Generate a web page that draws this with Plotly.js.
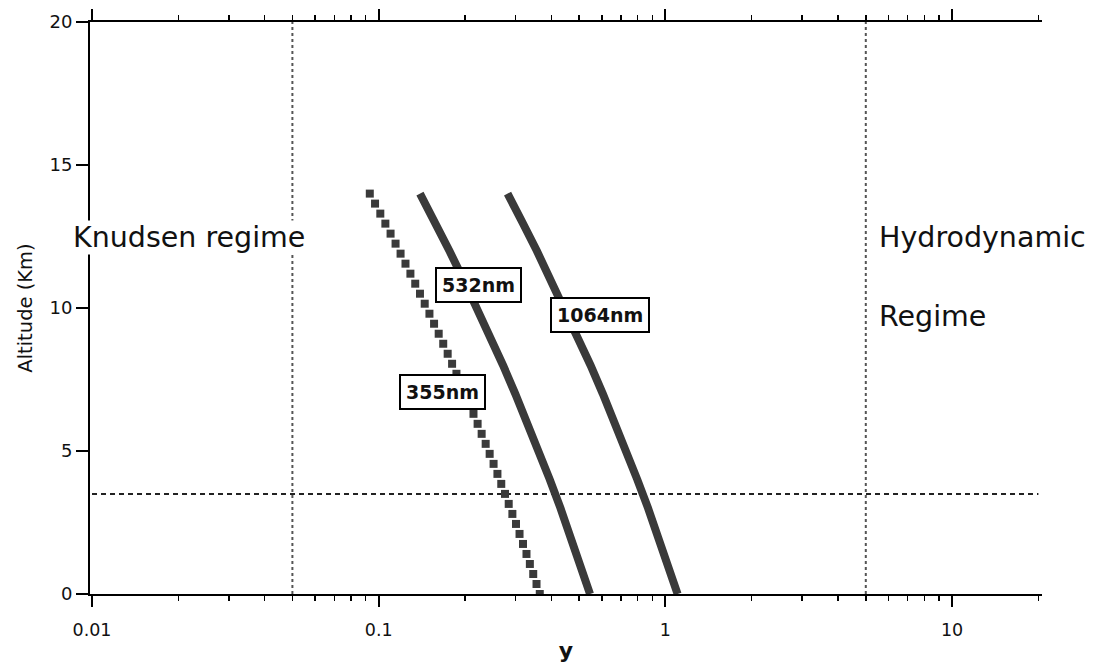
<!DOCTYPE html>
<html>
<head>
<meta charset="utf-8">
<script src="https://cdn.plot.ly/plotly-3.0.1.min.js"></script>
<style>html,body{margin:0;padding:0;background:#fff;}#chart{width:1099px;height:667px;}</style>
</head>
<body>
<div id="chart"></div>
<script>
// 355 nm: marker positions
const altitude355 = [0, 0.35, 0.7, 1.05, 1.4, 1.75, 2.1, 2.45, 2.8, 3.15, 3.5, 3.85, 4.2, 4.55, 4.9, 5.25, 5.6, 5.95, 6.3, 6.65, 7.0, 7.35, 7.7, 8.05, 8.4, 8.75, 9.1, 9.45, 9.8, 10.15, 10.5, 10.85, 11.2, 11.55, 11.9, 12.25, 12.6, 12.95, 13.3, 13.65, 14.0];
const y355 = [0.3646, 0.3552, 0.3459, 0.3367, 0.3277, 0.3187, 0.3099, 0.3012, 0.2926, 0.2841, 0.2758, 0.2676, 0.2595, 0.2516, 0.2438, 0.2361, 0.2286, 0.2213, 0.2141, 0.2070, 0.2001, 0.1933, 0.1867, 0.1803, 0.1740, 0.1679, 0.1619, 0.1560, 0.1503, 0.1447, 0.1393, 0.1341, 0.1290, 0.1240, 0.1192, 0.1145, 0.1100, 0.1055, 0.1013, 0.0971, 0.0931];

// 532 nm and 1064 nm solid curves
const altitude = [0, 1, 2, 3, 4, 5, 6, 7, 8, 9, 10, 11, 12, 13, 14];
const y532 = [0.5459, 0.5061, 0.4679, 0.4306, 0.3952, 0.3618, 0.3296, 0.2995, 0.2714, 0.2448, 0.2202, 0.1974, 0.1764, 0.1571, 0.1393];
const y1064 = [1.103, 1.022, 0.945, 0.870, 0.798, 0.731, 0.666, 0.605, 0.548, 0.494, 0.445, 0.399, 0.356, 0.317, 0.2815];

// regime boundaries and reference altitude
const regimeBounds = [0.05, 5];
const altitudeSpan = [0, 20];
const refAltitude = 3.5;
const refSpan = [0.01, 20];

// axis ticks
const xTickVals = [0.01, 0.1, 1, 10];
const xTickText = ['0.01', '0.1', '1', '10'];
const xMinorVals = [0.02,0.03,0.04,0.05,0.06,0.07,0.08,0.09,0.2,0.3,0.4,0.5,0.6,0.7,0.8,0.9,2,3,4,5,6,7,8,9,20];
const yTickVals = [0, 5, 10, 15, 20];

const curveColor = '#3a3a3a';
const FONT = 'DejaVu Sans, Verdana, sans-serif';

const traces = [
  {x: [regimeBounds[0], regimeBounds[0]], y: altitudeSpan, mode: 'lines', line: {color: '#555', width: 2, dash: 'dot'}, hoverinfo: 'skip'},
  {x: [regimeBounds[1], regimeBounds[1]], y: altitudeSpan, mode: 'lines', line: {color: '#555', width: 2, dash: 'dot'}, hoverinfo: 'skip'},
  {x: refSpan, y: [refAltitude, refAltitude], mode: 'lines', line: {color: '#222', width: 2, dash: '5px,4px'}, hoverinfo: 'skip'},
  {x: y355, y: altitude355, mode: 'markers', name: '355nm', marker: {symbol: 'square', size: 8, color: curveColor}},
  {x: y532, y: altitude, mode: 'lines', name: '532nm', line: {color: curveColor, width: 8}},
  {x: y1064, y: altitude, mode: 'lines', name: '1064nm', line: {color: curveColor, width: 8}}
];

const boxLabel = (text, x, y) => ({
  text: '<b>' + text + '</b>', xref: 'paper', yref: 'paper', x: x, y: y,
  xanchor: 'center', yanchor: 'middle', showarrow: false,
  bgcolor: '#fff', bordercolor: '#000', borderwidth: 2, borderpad: 5,
  font: {family: FONT, size: 19, color: '#111'}
});
const plainLabel = (text, x, y, bg) => ({
  text: text, xref: 'paper', yref: 'paper', x: x, y: y,
  xanchor: 'left', yanchor: 'middle', showarrow: false,
  bgcolor: bg || 'rgba(0,0,0,0)', borderpad: 0,
  font: {family: FONT, size: 28.5, color: '#111'}
});

const layout = {
  width: 1099, height: 667,
  margin: {l: 90, r: 57, t: 22, b: 73},
  paper_bgcolor: '#fff', plot_bgcolor: '#fff',
  showlegend: false,
  xaxis: {
    type: 'log', range: [-2.007, 1.3136],
    tickmode: 'array', tickvals: xTickVals, ticktext: xTickText,
    ticks: 'outside', ticklen: 11, tickwidth: 2, tickcolor: '#000',
    showline: true, linewidth: 2, linecolor: '#000', mirror: 'ticks',
    showgrid: false, zeroline: false,
    tickfont: {family: FONT, size: 17.5, color: '#111'},
    ticklabelstandoff: 8,
    minor: {tickmode: 'array', tickvals: xMinorVals, ticks: 'outside', ticklen: 5, tickwidth: 1.5, tickcolor: '#000', showgrid: false},
    title: {text: '<b>y</b>', font: {family: FONT, size: 22, color: '#111'}, standoff: 4}
  },
  yaxis: {
    range: [0, 20],
    tickmode: 'array', tickvals: yTickVals,
    ticks: 'outside', ticklen: 12, tickwidth: 1.5, tickcolor: '#000',
    showline: true, linewidth: 2, linecolor: '#000', mirror: false,
    showgrid: false, zeroline: false,
    tickfont: {family: FONT, size: 18, color: '#111'},
    title: {text: 'Altitude (Km)', font: {family: FONT, size: 19.5, color: '#111'}, standoff: 12}
  },
  annotations: [
    plainLabel('Knudsen regime', -0.0189, 0.6224, '#fff'),
    plainLabel('Hydrodynamic', 0.8277, 0.6224),
    plainLabel('Regime', 0.8277, 0.4843),
    boxLabel('532nm', 0.4086, 0.5402),
    boxLabel('1064nm', 0.5352, 0.4878),
    boxLabel('355nm', 0.3703, 0.3531)
  ]
};

Plotly.newPlot('chart', traces, layout, {staticPlot: true, displayModeBar: false});
</script>
</body>
</html>
